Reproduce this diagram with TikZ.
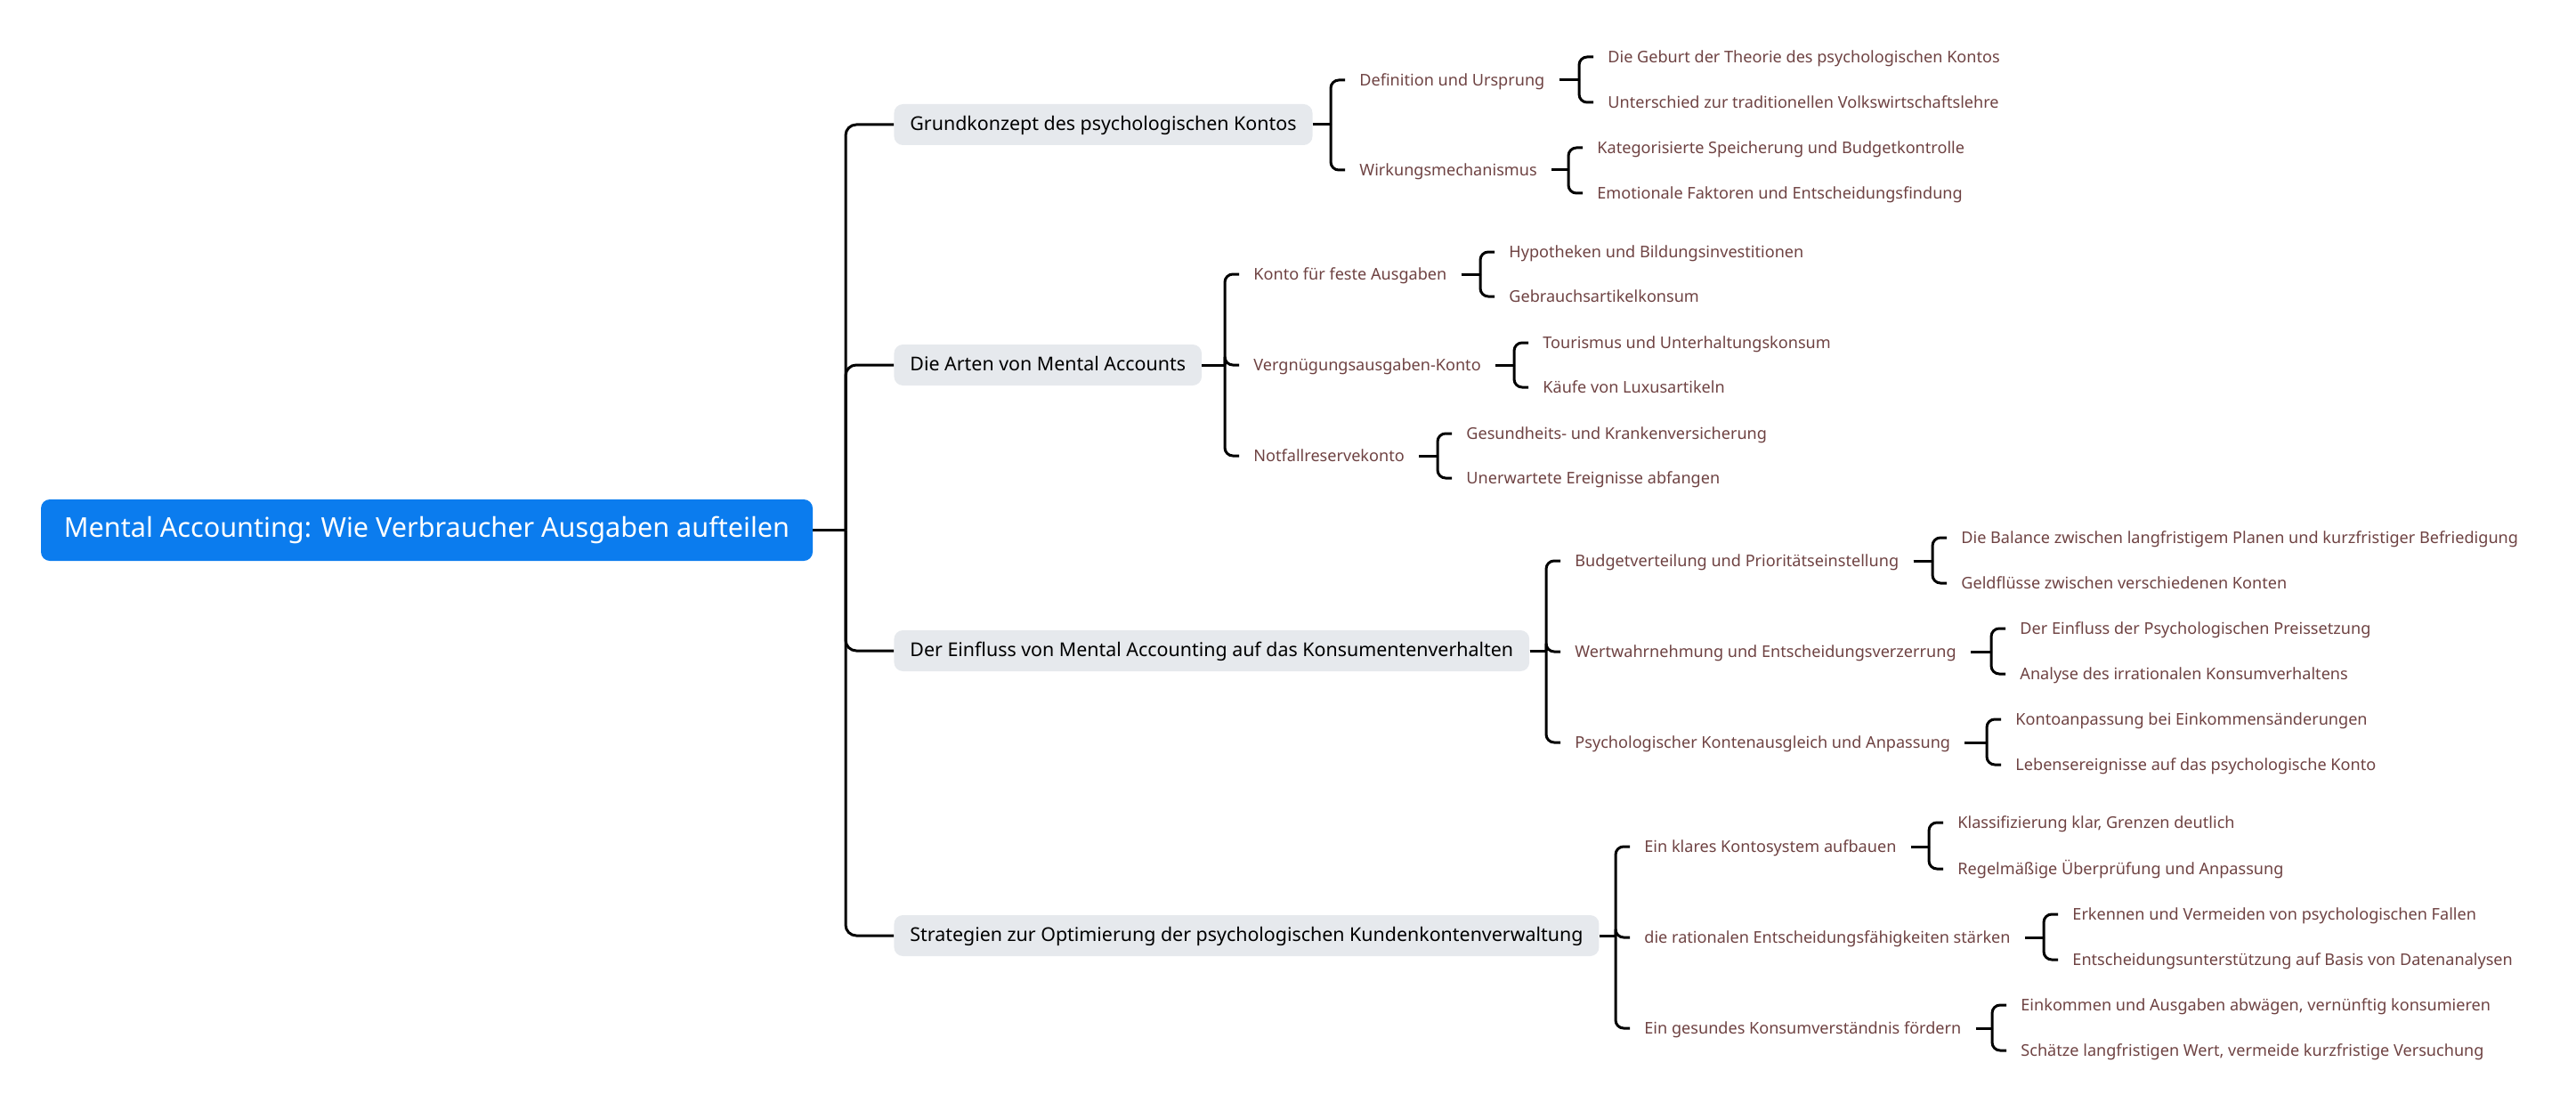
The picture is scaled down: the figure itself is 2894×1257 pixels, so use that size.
\documentclass[tikz,border=0pt]{standalone}
\usepackage{fontspec}
\setmainfont{Noto Sans}
\usetikzlibrary{calc}
\definecolor{rootblue}{RGB}{11,124,238}
\definecolor{lonefill}{RGB}{230,233,237}
\definecolor{txtbrown}{RGB}{110,66,66}
\tikzset{
  rootnode/.style={fill=rootblue,text=white,rounded corners=5pt,minimum width=433.5pt,minimum height=34.5pt,inner sep=0pt,font=\fontsize{15.3}{17}\selectfont},
  lone/.style={fill=lonefill,text=black,rounded corners=5pt,anchor=west,inner xsep=9pt,inner ysep=0pt,minimum height=23pt,text height=1.55ex,text depth=.35ex,font=\fontsize{10.7}{12}\selectfont},
  ltwo/.style={text=txtbrown,anchor=west,inner xsep=8pt,inner ysep=2pt,text height=1.55ex,text depth=.35ex,font=\fontsize{9.05}{11}\selectfont},
  conn/.style={line width=1.5pt,black},
  bendconn/.style={conn,rounded corners=4.5pt},
}
\newcommand{\grp}[3]{% parent, child, vertical coordinate name
  \coordinate (#3) at ($(#2.west)+(-16,0)$);
  \draw[conn] (#1.east) -- (#1.east -| #3);
  \draw[bendconn] (#1.east -| #3) |- (#2.west);
}
\begin{document}
\begin{tikzpicture}[x=0.5pt,y=-0.5pt]
\useasboundingbox (0,0) rectangle (2894,1257);
% root
\node[rootnode] (root) at (479.5,595.5) {Mental Accounting: Wie Verbraucher Ausgaben aufteilen};
% level 1
\node[lone] (a) at (1004,140) {Grundkonzept des psychologischen Kontos};
\node[lone] (b) at (1004,410) {Die Arten von Mental Accounts};
\node[lone] (c) at (1004,731) {Der Einfluss von Mental Accounting auf das Konsumentenverhalten};
\node[lone] (d) at (1004,1051) {Strategien zur Optimierung der psychologischen Kundenkontenverwaltung};
\coordinate (trunk) at (950,595.5);
\draw[conn] (root.east) -- (trunk);
\foreach \n in {a,b,c,d}{\draw[conn,rounded corners=6pt] (trunk) |- (\n.west);}
% level 2
\node[ltwo] (a1) at (1511,90) {Definition und Ursprung};
\node[ltwo] (a2) at (1511,191) {Wirkungsmechanismus};
\node[ltwo] (b1) at (1392,308) {Konto für feste Ausgaben};
\node[ltwo] (b2) at (1392,410) {Vergnügungsausgaben-Konto};
\node[ltwo] (b3) at (1392,512) {Notfallreservekonto};
\node[ltwo] (c1) at (1753,630) {Budgetverteilung und Prioritätseinstellung};
\node[ltwo] (c2) at (1753,732) {Wertwahrnehmung und Entscheidungsverzerrung};
\node[ltwo] (c3) at (1753,834) {Psychologischer Kontenausgleich und Anpassung};
\node[ltwo] (d1) at (1831,951) {Ein klares Kontosystem aufbauen};
\node[ltwo] (d2) at (1831,1053) {die rationalen Entscheidungsfähigkeiten stärken};
\node[ltwo] (d3) at (1831,1155) {Ein gesundes Konsumverständnis fördern};
% level 3
\node[ltwo] (a11) at (1790,64) {Die Geburt der Theorie des psychologischen Kontos};
\node[ltwo] (a12) at (1790,115) {Unterschied zur traditionellen Volkswirtschaftslehre};
\node[ltwo] (a21) at (1778,166) {Kategorisierte Speicherung und Budgetkontrolle};
\node[ltwo] (a22) at (1778,217) {Emotionale Faktoren und Entscheidungsfindung};
\node[ltwo] (b11) at (1679,283) {Hypotheken und Bildungsinvestitionen};
\node[ltwo] (b12) at (1679,333) {Gebrauchsartikelkonsum};
\node[ltwo] (b21) at (1717,385) {Tourismus und Unterhaltungskonsum};
\node[ltwo] (b22) at (1717,435) {Käufe von Luxusartikeln};
\node[ltwo] (b31) at (1631,487) {Gesundheits- und Krankenversicherung};
\node[ltwo] (b32) at (1631,537) {Unerwartete Ereignisse abfangen};
\node[ltwo] (c11) at (2187,604) {Die Balance zwischen langfristigem Planen und kurzfristiger Befriedigung};
\node[ltwo] (c12) at (2187,655) {Geldflüsse zwischen verschiedenen Konten};
\node[ltwo] (c21) at (2253,706) {Der Einfluss der Psychologischen Preissetzung};
\node[ltwo] (c22) at (2253,757) {Analyse des irrationalen Konsumverhaltens};
\node[ltwo] (c31) at (2248,808) {Kontoanpassung bei Einkommensänderungen};
\node[ltwo] (c32) at (2248,859) {Lebensereignisse auf das psychologische Konto};
\node[ltwo] (d11) at (2183,924) {Klassifizierung klar, Grenzen deutlich};
\node[ltwo] (d12) at (2183,976) {Regelmäßige Überprüfung und Anpassung};
\node[ltwo] (d21) at (2312,1027) {Erkennen und Vermeiden von psychologischen Fallen};
\node[ltwo] (d22) at (2312,1078) {Entscheidungsunterstützung auf Basis von Datenanalysen};
\node[ltwo] (d31) at (2254,1129) {Einkommen und Ausgaben abwägen, vernünftig konsumieren};
\node[ltwo] (d32) at (2254,1180) {Schätze langfristigen Wert, vermeide kurzfristige Versuchung};
% connectors level1 -> level2
\grp{a}{a1}{va1}\grp{a}{a2}{va2}
\grp{b}{b1}{vb1}\grp{b}{b2}{vb2}\grp{b}{b3}{vb3}
\grp{c}{c1}{vc1}\grp{c}{c2}{vc2}\grp{c}{c3}{vc3}
\grp{d}{d1}{vd1}\grp{d}{d2}{vd2}\grp{d}{d3}{vd3}
% level2 -> level3
\grp{a1}{a11}{wa11}\grp{a1}{a12}{wa12}
\grp{a2}{a21}{wa21}\grp{a2}{a22}{wa22}
\grp{b1}{b11}{wb11}\grp{b1}{b12}{wb12}
\grp{b2}{b21}{wb21}\grp{b2}{b22}{wb22}
\grp{b3}{b31}{wb31}\grp{b3}{b32}{wb32}
\grp{c1}{c11}{wc11}\grp{c1}{c12}{wc12}
\grp{c2}{c21}{wc21}\grp{c2}{c22}{wc22}
\grp{c3}{c31}{wc31}\grp{c3}{c32}{wc32}
\grp{d1}{d11}{wd11}\grp{d1}{d12}{wd12}
\grp{d2}{d21}{wd21}\grp{d2}{d22}{wd22}
\grp{d3}{d31}{wd31}\grp{d3}{d32}{wd32}
\end{tikzpicture}
\end{document}
